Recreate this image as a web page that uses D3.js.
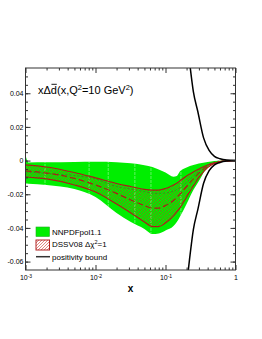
<!DOCTYPE html>
<html><head><meta charset="utf-8">
<script src="https://cdn.jsdelivr.net/npm/d3@7"></script>
<style>body{margin:0;background:#fff}svg{display:block}text{font-family:"Liberation Sans",Arial,Helvetica,sans-serif}</style>
</head><body><svg id="c" width="262" height="339"></svg>
<script>
// ---- data ----
const xs = [0.001, 0.0011, 0.002, 0.005, 0.01, 0.02, 0.032, 0.05, 0.065, 0.08, 0.1, 0.13, 0.145, 0.16, 0.2, 0.25, 0.3, 0.4, 0.5, 0.7, 1.0];
const nnpdfUpper = [0.0033, -0.0011, -0.0010, -0.0008, -0.0007, -0.00095, -0.0016, -0.0027, -0.0038, -0.0053, -0.0071, -0.0096, -0.0092, -0.0065, -0.0041, -0.0026, -0.0017, -0.0008, -0.00024, -0.00006, 0];
const nnpdfLower = [-0.0136, -0.0137, -0.0145, -0.0169, -0.0216, -0.0311, -0.0365, -0.0406, -0.0436, -0.0433, -0.0415, -0.0389, -0.0365, -0.0335, -0.0258, -0.0175, -0.0121, -0.0038, -0.0014, -0.00024, 0];
const nnpdfCentral = [-0.0068, -0.0068, -0.0077, -0.0089, -0.0109, -0.0154, -0.0169, -0.0184, -0.0193, -0.0195, -0.0193, -0.0181, -0.0172, -0.0163, -0.0130, -0.0092, -0.0062, -0.0026, -0.0008, -0.0001, 0];
const dssvUpper = [-0.0026, -0.0027, -0.0038, -0.0071, -0.0103, -0.0136, -0.0154, -0.0171, -0.0175, -0.0175, -0.0166, -0.0145, -0.0135, -0.0121, -0.0092, -0.0068, -0.0050, -0.0026, -0.0014, -0.00024, 0];
const dssvLower = [-0.0097, -0.0099, -0.0109, -0.0145, -0.0187, -0.0258, -0.0311, -0.0365, -0.0392, -0.0392, -0.0371, -0.0329, -0.0305, -0.0282, -0.0216, -0.0151, -0.0100, -0.0041, -0.0017, -0.00024, 0];
const dssvCentral = [-0.0062, -0.0063, -0.0074, -0.0106, -0.0145, -0.0195, -0.0234, -0.0267, -0.0282, -0.0282, -0.0267, -0.0237, -0.0219, -0.0201, -0.0154, -0.0109, -0.0074, -0.0032, -0.0014, -0.00024, 0];
const posX = [0.2, 0.22, 0.25, 0.29, 0.35, 0.42, 0.5, 0.6, 0.75, 1.0];
const posBound = [0.074, 0.059, 0.041, 0.029, 0.0135, 0.006, 0.0025, 0.0011, 0.0003, 0];
const gridX = [0.0019, 0.0081, 0.0152, 0.0365, 0.062, 0.166];
const yTicks = [-0.06, -0.04, -0.02, 0, 0.02, 0.04];
const yTickLabels = ["-0.06", "-0.04", "-0.02", "0", "0.02", "0.04"];
const xTicks = [0.001, 0.01, 0.1, 1];
const xTickBase = ["10", "10", "10", "1"];
const xTickExp = ["-3", "-2", "-1", ""];
const legendLabels = ["NNPDFpol1.1", "DSSV08 \u0394\u03c7", "positivity bound"];

// ---- layout ----
const X0 = 25.5, X1 = 235.5, Y0 = 68, Y1 = 270;
const GREEN = "#00ee00", DRED = "#a8201a", HATCH = "#c8281e";
const svg = d3.select("#c");
const x = d3.scaleLog().domain([1e-3, 1]).range([X0, X1]);
const y = d3.scaleLinear().domain([-0.065, 0.055]).range([Y1, Y0]);

const defs = svg.append("defs");
defs.append("clipPath").attr("id", "plot").append("rect")
  .attr("x", X0).attr("y", Y0).attr("width", X1 - X0).attr("height", Y1 - Y0);
const pat = defs.append("pattern").attr("id", "hatch").attr("patternUnits", "userSpaceOnUse")
  .attr("width", 3).attr("height", 3);
pat.append("path").attr("d", "M0,3L3,0M-1,1L1,-1M2,4L4,2")
  .attr("stroke", HATCH).attr("stroke-width", 0.55);

const idx = d3.range(xs.length);
const area = (lo, hi) => d3.area().x(i => x(xs[i])).y0(i => y(lo[i])).y1(i => y(hi[i])).curve(d3.curveMonotoneX)(idx);
const line = (v) => d3.line().x(i => x(xs[i])).y(i => y(v[i])).curve(d3.curveMonotoneX)(idx);

defs.append("clipPath").attr("id", "greenclip").append("path").attr("d", area(nnpdfLower, nnpdfUpper));

const g = svg.append("g").attr("clip-path", "url(#plot)");
g.append("path").attr("d", area(nnpdfLower, nnpdfUpper)).attr("fill", GREEN);
g.append("g").attr("clip-path", "url(#greenclip)").selectAll("line").data(gridX).join("line")
  .attr("x1", d => x(d)).attr("x2", d => x(d)).attr("y1", Y0).attr("y2", Y1)
  .attr("stroke", "#ffffff").attr("stroke-width", 0.7).attr("stroke-dasharray", "3,1").attr("opacity", 0.55);
g.append("path").attr("d", area(dssvLower, dssvUpper)).attr("fill", "url(#hatch)");
g.append("path").attr("d", line(nnpdfCentral)).attr("fill", "none")
  .attr("stroke", "#3f7a2a").attr("stroke-width", 0.8).attr("stroke-dasharray", "2,2");
g.append("path").attr("d", line(dssvUpper)).attr("fill", "none").attr("stroke", DRED).attr("stroke-width", 1.2);
g.append("path").attr("d", line(dssvLower)).attr("fill", "none").attr("stroke", DRED).attr("stroke-width", 1.2);
g.append("path").attr("d", line(dssvCentral)).attr("fill", "none").attr("stroke", DRED)
  .attr("stroke-width", 1.2).attr("stroke-dasharray", "6,3");

const pIdx = d3.range(posX.length);
const pl = (s) => d3.line().x(i => x(posX[i])).y(i => y(s * posBound[i])).curve(d3.curveMonotoneX)(pIdx);
g.append("path").attr("d", pl(1)).attr("fill", "none").attr("stroke", "#000").attr("stroke-width", 1.5);
g.append("path").attr("d", pl(-1)).attr("fill", "none").attr("stroke", "#000").attr("stroke-width", 1.5);

// ---- axes ----
const minorY = d3.range(-12, 11).map(k => +(k * 0.005).toFixed(4));
const minorX = [];
[1e-3, 1e-2, 1e-1].forEach(d => { for (let m = 2; m <= 9; m++) minorX.push(m * d); });
const axCol = "#333";
function styleAxis(sel) {
  sel.select(".domain").remove();
  sel.selectAll(".tick line").attr("stroke", axCol);
  sel.attr("font-size", 7).attr("font-family", '"Liberation Sans",Arial,sans-serif');
}
svg.append("g").attr("transform", `translate(${X0},0)`)
  .call(d3.axisLeft(y).tickValues(yTicks).tickSize(-5).tickPadding(2).tickFormat((d, i) => yTickLabels[i])).call(styleAxis);
svg.append("g").attr("transform", `translate(${X0},0)`)
  .call(d3.axisLeft(y).tickValues(minorY).tickSize(-2.5).tickFormat("")).call(styleAxis);
svg.append("g").attr("transform", `translate(${X1},0)`)
  .call(d3.axisRight(y).tickValues(yTicks).tickSize(-5).tickFormat("")).call(styleAxis);
svg.append("g").attr("transform", `translate(${X1},0)`)
  .call(d3.axisRight(y).tickValues(minorY).tickSize(-2.5).tickFormat("")).call(styleAxis);
const bx = svg.append("g").attr("transform", `translate(0,${Y1})`)
  .call(d3.axisBottom(x).tickValues(xTicks).tickSize(-5).tickPadding(5.5).tickFormat(() => "")).call(styleAxis);
bx.selectAll(".tick text").each(function (d, i) {
  const t = d3.select(this);
  t.append("tspan").text(xTickBase[i]);
  if (xTickExp[i]) t.append("tspan").attr("dy", -2.6).attr("font-size", 5).text(xTickExp[i]);
});
svg.append("g").attr("transform", `translate(0,${Y1})`)
  .call(d3.axisBottom(x).tickValues(minorX).tickSize(-2.5).tickFormat("")).call(styleAxis);
svg.append("g").attr("transform", `translate(0,${Y0})`)
  .call(d3.axisTop(x).tickValues(xTicks).tickSize(-5).tickFormat("")).call(styleAxis);
svg.append("g").attr("transform", `translate(0,${Y0})`)
  .call(d3.axisTop(x).tickValues(minorX).tickSize(-2.5).tickFormat("")).call(styleAxis);
svg.append("rect").attr("x", X0).attr("y", Y0).attr("width", X1 - X0).attr("height", Y1 - Y0)
  .attr("fill", "none").attr("stroke", axCol).attr("stroke-width", 1);

svg.append("text").attr("x", 130.5).attr("y", 291.5).attr("text-anchor", "middle")
  .attr("font-size", 10).attr("font-weight", "bold").text("x");

// ---- title ----
const title = svg.append("text").attr("x", 38).attr("y", 94).attr("font-size", 11).attr("fill", "#000");
title.append("tspan").text("x\u0394d(x,Q");
title.append("tspan").attr("dy", -4).attr("font-size", 7.5).text("2");
title.append("tspan").attr("dy", 4).text("=10 GeV");
title.append("tspan").attr("dy", -4).attr("font-size", 7.5).text("2");
title.append("tspan").attr("dy", 4).text(")");
const tn = title.node();
const dStart = 38 + tn.getSubStringLength(0, 2);
const dW = tn.getSubStringLength(2, 1);
svg.append("line").attr("x1", dStart + 0.6).attr("x2", dStart + dW - 0.2).attr("y1", 84.3).attr("y2", 84.3)
  .attr("stroke", "#000").attr("stroke-width", 0.9);

// ---- legend ----
const lg = svg.append("g");
lg.append("rect").attr("x", 36).attr("y", 227).attr("width", 13.5).attr("height", 9.5)
  .attr("fill", GREEN).attr("stroke", "#22aa22").attr("stroke-width", 0.6);
lg.append("rect").attr("x", 36).attr("y", 240).attr("width", 13.5).attr("height", 10)
  .attr("fill", "#fff");
lg.append("rect").attr("x", 36).attr("y", 240).attr("width", 13.5).attr("height", 10)
  .attr("fill", "url(#hatch)").attr("stroke", "#b22222").attr("stroke-width", 1);
lg.append("line").attr("x1", 36).attr("x2", 50).attr("y1", 256.7).attr("y2", 256.7)
  .attr("stroke", "#333").attr("stroke-width", 1.5);
const ly = [234.5, 247, 259.5];
legendLabels.forEach((s, i) => {
  const t = lg.append("text").attr("x", 52).attr("y", ly[i]).attr("font-size", 8).text(s);
  if (i === 1) {
    t.append("tspan").attr("dy", -3).attr("font-size", 5.5).text("2");
    t.append("tspan").attr("dy", 3).text("=1");
  }
});
</script></body></html>
